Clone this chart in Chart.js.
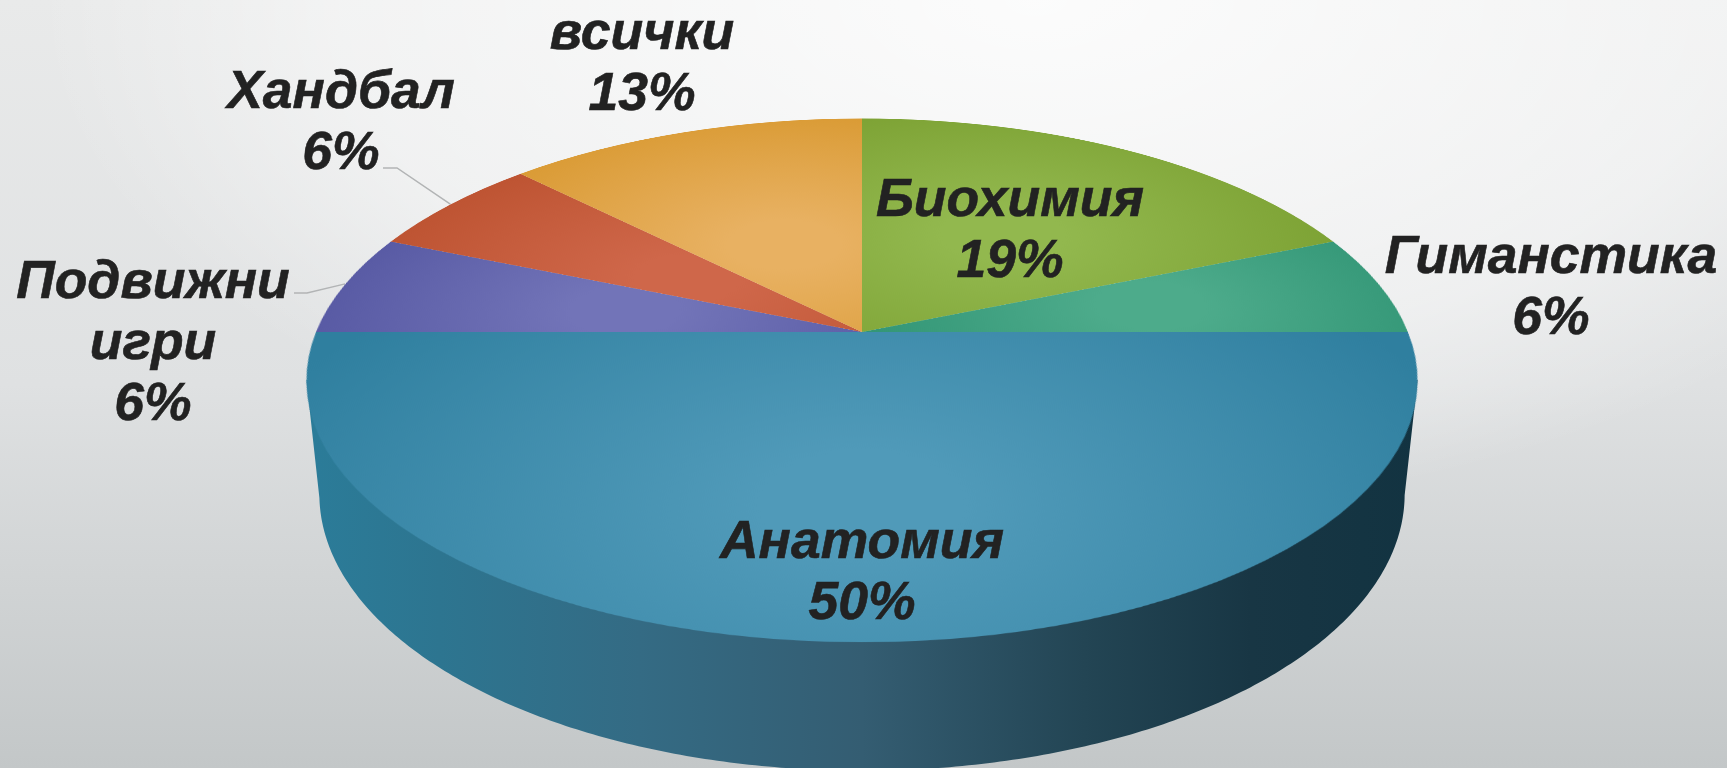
<!DOCTYPE html>
<html lang="bg">
<head>
<meta charset="utf-8">
<title>Pie</title>
<script src="https://cdn.jsdelivr.net/npm/chart.js@4"></script>
<style>
  html, body { margin: 0; height: 100%; overflow: hidden; }
  body {
    position: relative; width: 1727px; height: 768px;
    background:
      radial-gradient(ellipse 1000px 520px at 60% 0%, rgba(255,255,255,.85) 0%, rgba(255,255,255,.45) 70%, rgba(255,255,255,0) 100%),
      linear-gradient(180deg, #e9eaea 0%, #dfe1e2 50%, #c3c7c8 100%);
  }
  #wall { position: absolute; left: 0; top: 0; }
  #pie {
    position: absolute; left: 316px; top: -214.5px;
    /* tilt the flat pie so it looks like the 3d one */
    transform: perspective(2618px) rotateX(62.4deg);
    transform-origin: 50% 50%;
  }
  .lbl {
    position: absolute; transform: translate(-50%, -50%); text-align: center;
    font: italic bold 53.5px/61px "Liberation Sans", Arial, sans-serif; color: #222;
    -webkit-text-stroke: 0.6px #222;
  }
</style>
</head>
<body>
<canvas id="wall" width="1727" height="768"></canvas>
<canvas id="pie" width="1092" height="1092"></canvas>
<script>
// data
const categories = ['Биохимия', 'Гиманстика', 'Анатомия', 'Подвижни игри', 'Хандбал', 'всички'];
const counts = [3, 1, 8, 1, 1, 2]; // slices, out of 16
const percentLabels = ['19%', '6%', '50%', '6%', '6%', '13%'];

// colours, centre of the slice / rim of the slice
const lightColors = ['#92b84e', '#4dab8b', '#509ab9', '#7274b8', '#cf674a', '#e8b162'];
const darkColors = ['#789d2e', '#2b9070', '#2f7f9f', '#5355a0', '#bc5230', '#d8982f'];
const lightAt = [0.5, 0.55, 0.6, 0.45, 0.4, 0.4]; // how far out the light spot sits

// where the label blocks go
const labelX = [1010, 1551, 862, 153, 341, 642];
const labelY = [228, 285, 570, 340, 120, 61];
const labelW = [300, 340, 300, 300, 260, 260];

// projection, same numbers as the css transform on #pie
const R = 546, cx = 862, cy = 331.5;
const tilt = 62.4 * Math.PI / 180, persp = 2618, depth = 130;
const total = counts.reduce((a, b) => a + b, 0);

function project(x, y, z) {
  const y2 = y * Math.cos(tilt) + z * Math.sin(tilt);
  const z2 = y * Math.sin(tilt) - z * Math.cos(tilt);
  const s = persp / (persp - z2);
  return [cx + x * s, cy + y2 * s];
}

function sliceFill(c) {
  const i = c.dataIndex;
  let before = 0;
  for (let j = 0; j < i; j++) before += counts[j];
  const mid = (before + counts[i] / 2) / total * Math.PI * 2;
  const gx = R + Math.sin(mid) * R * lightAt[i];
  const gy = R - Math.cos(mid) * R * lightAt[i];
  const g = c.chart.ctx.createRadialGradient(gx, gy, 0, gx, gy, R * (0.6 + counts[i] / total));
  g.addColorStop(0, lightColors[i]);
  g.addColorStop(0.15, lightColors[i]);
  g.addColorStop(1, darkColors[i]);
  return g;
}

const pie = new Chart(document.getElementById('pie'), {
  type: 'pie',
  data: {
    labels: categories,
    datasets: [{
      data: counts,
      backgroundColor: sliceFill,
      borderWidth: 0,
      hoverOffset: 0,
      offset: 0
    }]
  },
  options: {
    responsive: false,
    animation: false,
    events: [],
    layout: { padding: 0 },
    plugins: { legend: { display: false }, tooltip: { enabled: false } }
  }
});

// side of the pie and the two leader lines go on the canvas behind
const ctx = document.getElementById('wall').getContext('2d');

function drawWall() {
  const a0 = Math.asin(R * Math.sin(tilt) / persp);
  ctx.beginPath();
  for (let a = a0; a <= Math.PI - a0; a += 0.01) {
    const p = project(R * Math.cos(a), R * Math.sin(a), depth);
    ctx.lineTo(p[0], p[1]);
  }
  for (const a of [Math.PI - a0, a0]) {
    const p = project(R * Math.cos(a), R * Math.sin(a), 0);
    ctx.lineTo(p[0], p[1]);
  }
  ctx.closePath();
  const g = ctx.createLinearGradient(306, 0, 1418, 0);
  g.addColorStop(0, '#2b7c99');
  g.addColorStop(0.12, '#2d7590');
  g.addColorStop(0.3, '#346b84');
  g.addColorStop(0.5, '#345d72');
  g.addColorStop(0.7, '#234554');
  g.addColorStop(0.85, '#183644');
  g.addColorStop(1, '#123341');
  ctx.fillStyle = g;
  ctx.fill();
}

function drawLeader(index, x1, x2, y) {
  const arc = pie.getDatasetMeta(0).data[index];
  const mid = (arc.startAngle + arc.endAngle) / 2;
  const end = project(R * Math.cos(mid), R * Math.sin(mid), 0);
  ctx.beginPath();
  ctx.moveTo(x1, y);
  ctx.lineTo(x2, y);
  ctx.lineTo(end[0], end[1]);
  ctx.strokeStyle = '#b2b4b5';
  ctx.lineWidth = 1.5;
  ctx.stroke();
}

drawWall();
drawLeader(3, 294, 307, 293);
drawLeader(4, 383, 397, 168);

// labels
categories.forEach(function (name, i) {
  const d = document.createElement('div');
  d.className = 'lbl';
  d.style.left = labelX[i] + 'px';
  d.style.top = labelY[i] + 'px';
  d.style.width = labelW[i] + 'px';
  d.innerHTML = name + '<br>' + percentLabels[i];
  document.body.appendChild(d);
});
</script>
</body>
</html>
